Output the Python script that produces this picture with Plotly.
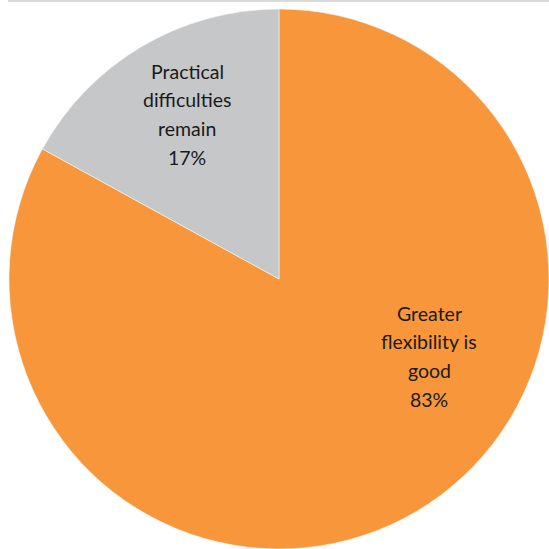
import plotly.graph_objects as go

labels = ["Greater flexibility is good", "Practical difficulties remain"]
values = [83, 17]
colors = ["#F7963A", "#C6C7C8"]
label_lines = [["Greater", "flexibility is", "good", "83%"],
               ["Practical", "difficulties", "remain", "17%"]]
# label anchor (first line centre, px) and line spacing
label_anchor_px = [(429, 313), (187, 71)]
line_step_px = 28.7

W = H = 549
fig = go.Figure(go.Pie(
    labels=labels, values=values, sort=False, direction="clockwise",
    rotation=0, marker=dict(colors=colors, line=dict(color="white", width=0.5)),
    textinfo="none", hoverinfo="label+percent", showlegend=False,
    domain=dict(x=[9 / W, 1.0], y=[0, 540 / H]),
))

anns = []
for lines, (ax, ay) in zip(label_lines, label_anchor_px):
    for i, t in enumerate(lines):
        anns.append(dict(
            x=ax / W, y=1 - (ay + i * line_step_px) / H, xref="paper", yref="paper",
            text=t, showarrow=False, xanchor="center", yanchor="middle",
            font=dict(family="Lato", size=19.5, color="#1a1a1a"),
        ))

fig.update_layout(
    width=W, height=H, margin=dict(l=0, r=0, t=0, b=0),
    paper_bgcolor="white", plot_bgcolor="white", annotations=anns,
    shapes=[dict(type="line", xref="paper", yref="paper", x0=8 / W, x1=1, y0=1 - 1 / H, y1=1 - 1 / H,
                 line=dict(color="#DADADA", width=2))],
)
fig.write_html("out.html")
